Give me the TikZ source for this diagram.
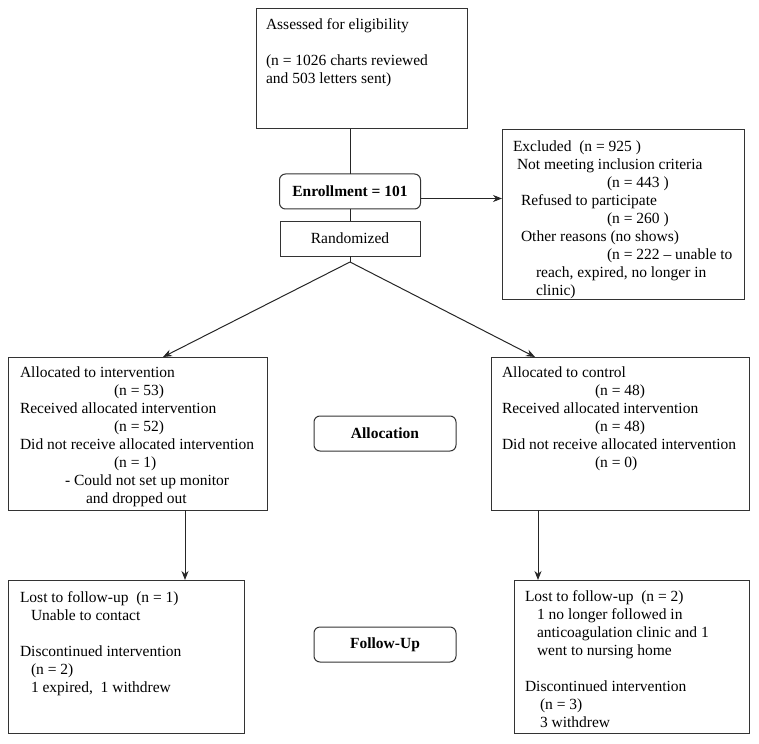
\documentclass[tikz,border=0pt]{standalone}
\usepackage{fontspec}
\setmainfont{Liberation Serif}
\usetikzlibrary{arrows.meta}
\begin{document}
\begin{tikzpicture}[x=1pt,y=-1pt,
  every node/.style={inner sep=0pt, outer sep=0pt},
  box/.style={draw=black!80, line width=1pt, rectangle},
  rbox/.style={draw=black!80, line width=1pt, rectangle, rounded corners=6pt, font=\fontsize{15.5}{18}\selectfont\bfseries},
  txt/.style={anchor=north west, align=left, font=\fontsize{15.5}{18}\selectfont},
  conn/.style={draw=black!85, line width=1pt},
  arr/.style={conn, -{Stealth[length=9pt,width=7pt]}}]
\useasboundingbox (0,0) rectangle (759,743);
% boxes
\node[box, minimum width=211pt, minimum height=120pt] (elig) at (361.5,69) {};
\node[rbox, minimum width=141pt, minimum height=35pt] (enroll) at (350,191.5) {Enrollment = 101};
\node[box, minimum width=140pt, minimum height=35pt, font=\fontsize{15.5}{18}\selectfont] (rand) at (350,238.5) {Randomized};
\node[box, minimum width=242pt, minimum height=169pt] (excl) at (623,214.5) {};
\node[box, minimum width=259pt, minimum height=153pt] (allocL) at (137.5,433.5) {};
\node[box, minimum width=258pt, minimum height=153pt] (allocR) at (620,433.5) {};
\node[rbox, minimum width=142pt, minimum height=35pt] (allocation) at (385,433.5) {Allocation};
\node[box, minimum width=236pt, minimum height=153pt] (fuL) at (126,656.5) {};
\node[box, minimum width=235pt, minimum height=153pt] (fuR) at (631.5,656.5) {};
\node[rbox, minimum width=142pt, minimum height=35pt] (followup) at (385,644.5) {Follow-Up};
% texts
\node[txt] (eligt) at (266,19) {Assessed for eligibility\\[18pt]
(n = 1026 charts reviewed\\
and 503 letters sent)};
\node[txt] (exclt) at (513,141) {Excluded\ \ (n = 925\ )\\
\hspace*{4pt}Not meeting inclusion criteria\\
\hspace*{94pt}(n = 443\ )\\
\hspace*{8pt}Refused to participate\\
\hspace*{94pt}(n = 260\ )\\
\hspace*{8pt}Other reasons (no shows)\\
\hspace*{94pt}(n = 222 – unable to\\
\hspace*{23pt}reach, expired, no longer in\\
\hspace*{23pt}clinic)};
\node[txt] (allocLt) at (20,367) {Allocated to intervention\\
\hspace*{94pt}(n = 53)\\
Received allocated intervention\\
\hspace*{94pt}(n = 52)\\
Did not receive allocated intervention\\
\hspace*{94pt}(n = 1)\\
\hspace*{45pt}- Could not set up monitor\\
\hspace*{66pt}and dropped out};
\node[txt] (allocRt) at (502,367) {Allocated to control\\
\hspace*{93pt}(n = 48)\\
Received allocated intervention\\
\hspace*{93pt}(n = 48)\\
Did not receive allocated intervention\\
\hspace*{93pt}(n = 0)};
\node[txt] (fuLt) at (20,592) {Lost to follow-up\ \ (n = 1)\\
\hspace*{11pt}Unable to contact\\[18pt]
Discontinued intervention\\
\hspace*{11pt}(n = 2)\\
\hspace*{11pt}1 expired,\ \ 1 withdrew};
\node[txt] (fuRt) at (525,591) {Lost to follow-up\ \ (n = 2)\\
\hspace*{12pt}1 no longer followed in\\
\hspace*{12pt}anticoagulation clinic and 1\\
\hspace*{12pt}went to nursing home\\[18pt]
Discontinued intervention\\
\hspace*{15pt}(n = 3)\\
\hspace*{15pt}3 withdrew};
% connectors
\coordinate (apex) at (350,262);
\draw[conn] (enroll.north |- elig.south) -- (enroll.north);
\draw[conn] (enroll.south) -- (rand.north);
\draw[arr] ([yshift=-7pt]enroll.east) -- ([yshift=-7pt]enroll.east -| excl.west);
\draw[conn] (rand.south) -- (apex);
\draw[arr] (apex) -- ([xshift=25.5pt]allocL.north);
\draw[arr] (apex) -- ([xshift=-85pt]allocR.north);
\draw[arr] ([xshift=47.5pt]allocL.south) -- ([xshift=47.5pt]allocL.south |- fuL.north);
\draw[arr] ([xshift=-82pt]allocR.south) -- ([xshift=-82pt]allocR.south |- fuR.north);
\end{tikzpicture}
\end{document}
